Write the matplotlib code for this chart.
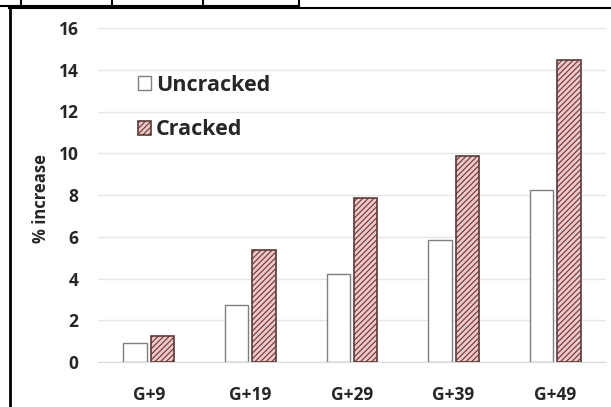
import matplotlib
matplotlib.use("Agg")
import matplotlib.pyplot as plt
from matplotlib.lines import Line2D
import numpy as np

categories = ["G+9", "G+19", "G+29", "G+39", "G+49"]
uncracked = [0.91, 2.73, 4.22, 5.84, 8.24]
cracked = [1.25, 5.37, 7.86, 9.87, 14.47]
yticks = [0, 2, 4, 6, 8, 10, 12, 14, 16]

W, H = 611, 407
fig = plt.figure(figsize=(W/100, H/100), dpi=100)
plt.rcParams['hatch.color'] = '#e06060'
plt.rcParams['hatch.linewidth'] = 0.8

ax = fig.add_axes([98/W, 1-362/H, (606-98)/W, (362-28)/H])
x = np.arange(len(categories))
bw = 0.23
ax.bar(x - 0.135, uncracked, bw, facecolor='white', edgecolor='#7f7f7f', linewidth=1.0, label='Uncracked', zorder=3)
ax.bar(x + 0.135, cracked, bw, facecolor='#f6c6c6', edgecolor='#5a3a3a', linewidth=1.2, hatch='//////', label='Cracked', zorder=3)
ax.set_ylim(0, 16)
ax.set_xlim(-0.5, 4.5)
ax.set_yticks(yticks)
ax.set_xticks(x)
ax.set_xticklabels(categories)
ax.yaxis.grid(True, color='#e6e6e6', linewidth=1.0, zorder=0)
for s in ['top', 'right', 'left']:
    ax.spines[s].set_visible(False)
ax.spines['bottom'].set_color('#d9d9d9')
ax.tick_params(axis='both', length=0, labelsize=12.5, colors='#262626')
ax.tick_params(axis='y', pad=14)
ax.tick_params(axis='x', pad=17)
for lab in ax.get_xticklabels() + ax.get_yticklabels():
    lab.set_fontfamily('Open Sans')
    lab.set_fontweight('bold')
ax.set_ylabel('% increase', fontsize=12, fontweight='bold', fontfamily='Open Sans', color='#262626')
ax.yaxis.set_label_coords(-0.095, 0.49)

leg = ax.legend(loc='upper left', bbox_to_anchor=(0.04, 0.918), frameon=False,
                prop={'family': 'Open Sans', 'weight': 'bold', 'size': 15.5},
                handlelength=0.6, handleheight=0.6, handletextpad=0.25, labelspacing=1.1)
for t in leg.get_texts():
    t.set_color('#262626')

# frame and cropped table lines
def hline(y, x0, x1, lw=1.5):
    fig.add_artist(Line2D([x0/W, x1/W], [1-y/H, 1-y/H], color='black', linewidth=lw))
def vline(xp, y0, y1, lw=1.5):
    fig.add_artist(Line2D([xp/W, xp/W], [1-y0/H, 1-y1/H], color='black', linewidth=lw))

hline(5.5, 0, 299)
for xp in [21, 112, 203, 299]:
    vline(xp, 0, 5.5)
hline(7.5, 9, 611)
vline(9.5, 7, 407, lw=2)

fig.savefig('out.png', dpi=100)
